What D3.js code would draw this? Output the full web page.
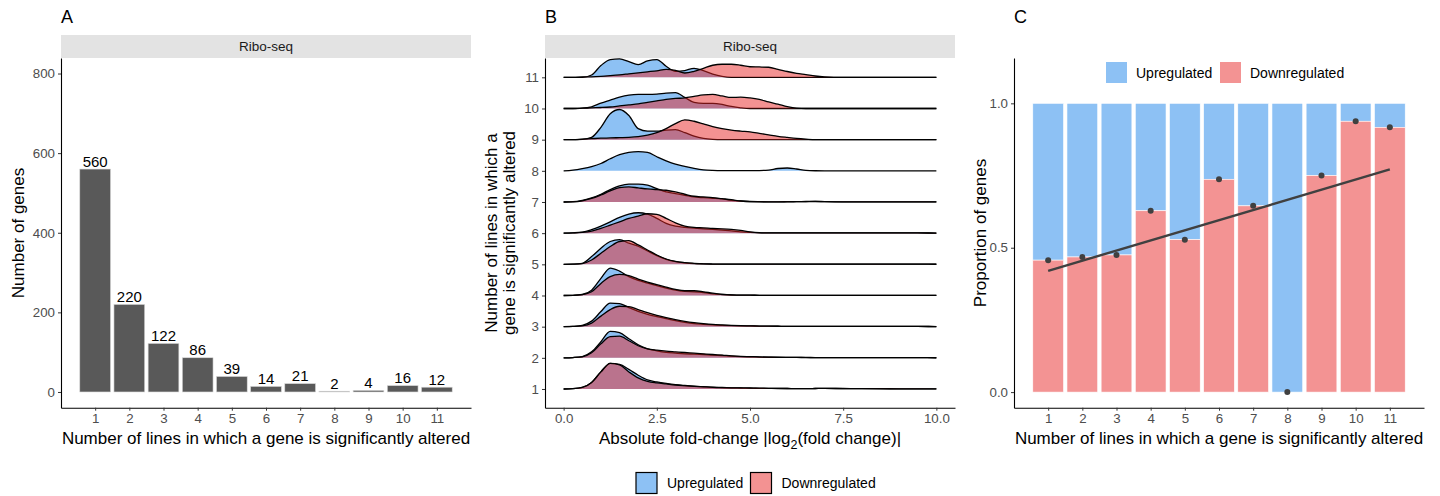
<!DOCTYPE html>
<html>
<head>
<meta charset="utf-8">
<script src="https://cdn.jsdelivr.net/npm/d3@7"></script>
<style>
  html, body { margin: 0; padding: 0; background: #ffffff; }
  svg { display: block; font-family: "Liberation Sans", Arial, sans-serif; }
</style>
</head>
<body>
<svg id="chart" width="1440" height="496"></svg>
<script>
// ---------------- DATA ----------------
const categories = [1, 2, 3, 4, 5, 6, 7, 8, 9, 10, 11];
const geneCounts = [560, 220, 122, 86, 39, 14, 21, 2, 4, 16, 12];
const countTicks = [0, 200, 400, 600, 800];

// Panel B: fold-change grid and scaled density heights
const foldGrid = [0, 0.25, 0.5, 0.75, 1, 1.25, 1.5, 1.75, 2, 2.25, 2.5, 2.75, 3, 3.25, 3.5, 3.75, 4,
  4.25, 4.5, 4.75, 5, 5.25, 5.5, 5.75, 6, 6.25, 6.5, 6.75, 7, 7.5, 8, 8.5, 9, 9.5, 10];
const foldTicks = [0, 2.5, 5, 7.5, 10];

const up1  = [0,0.3,1.5,6.5,17,25.5,24.5,19.5,13.7,9,7,5.5,4.3,3.5,2.8,2.3,1.8,1.5,1.2,1,0.8,0.7,0.6,0.5,0.5,0.4,0.4,0.5,0.6,0.5,0.3,0.3,0.2,0.2,0.1];
const down1= [0,0.3,1.5,6.5,17,25.5,24,17,11,7.5,6,5,4,3.3,2.7,2.2,1.7,1.4,1.2,1.1,1,0.9,0.7,0.6,0.5,0.4,0.4,0.5,0.6,0.4,0.3,0.2,0.2,0.2,0.1];
const up2  = [0,0.3,1.3,6,16,26.3,25,19,13,9,7,5.5,4.7,4,3.7,3.3,2.7,2.3,1.7,1.3,1,0.8,0.6,0.5,0.4,0.4,0.3,0.3,0.3,0.3,0.2,0.2,0.3,0.2,0.1];
const down2= [0,0.3,1,5,14,21,21.5,17,12,9,7.7,6.7,6,5.3,4.7,4,3.3,2.7,2,1.5,1.2,0.9,0.7,0.6,0.5,0.4,0.4,0.3,0.3,0.3,0.2,0.2,0.3,0.2,0.1];
const up3  = [0,0.3,1.3,5.5,15,23.5,23,19,15.3,12.3,10,8,6,4.3,3,2.3,1.7,1.3,1,0.8,0.7,0.6,0.5,0.4,0.3,0.3,0.3,0.3,0.3,0.3,0.3,0.2,0.2,0.2,0.1];
const down3= [0,0.2,0.8,3.5,10.5,17,20.3,20,17,14,11.3,9,7,5.3,4,3,2.2,1.7,1.3,1,0.8,0.6,0.5,0.4,0.3,0.3,0.3,0.3,0.3,0.3,0.3,0.2,0.2,0.2,0.1];
const up4  = [0,0.2,1,5.3,17,27.3,24.3,18.7,15,12.3,9.7,7.3,5.3,4,3.7,3,1.7,1,0.5,0.3,0.3,0.2,0.2,0.2,0.2,0.2,0.2,0.2,0.2,0.2,0.2,0.2,0.2,0.2,0.1];
const down4= [0,0.2,0.8,3.7,12,18.7,21,19.7,16.3,13.3,10.7,8.3,6,4.7,4.7,3.7,2.3,1.2,0.6,0.3,0.3,0.2,0.2,0.2,0.2,0.2,0.2,0.2,0.2,0.2,0.2,0.2,0.2,0.2,0.1];
const up5  = [0,0.2,1,7.7,16,22.7,24.5,21,18,13.3,8.7,5,2.7,1.5,0.8,0.5,0.3,0.2,0.2,0.2,0.2,0.3,0.3,0.2,0.2,0.2,0.2,0.2,0.2,0.2,0.2,0.3,0.2,0.2,0.1];
const down5= [0,0.2,0.8,4.3,11,17.7,22.7,23.5,19.3,14.3,9.3,5.3,3,1.7,1,0.5,0.3,0.2,0.2,0.2,0.2,0.3,0.3,0.2,0.2,0.2,0.2,0.2,0.2,0.2,0.2,0.3,0.2,0.2,0.1];
const up6  = [0,0.3,1,3.5,7,11.3,15.7,19,20.3,19,14.7,9.7,7,5.7,5,4.3,3.7,3,2.3,1.3,0.7,0.3,0.2,0.2,0.2,0.2,0.2,0.2,0.2,0.2,0.2,0.2,0.2,0.2,0.1];
const down6= [0,0.2,0.7,2,4.7,8,11.3,14.7,17,19.3,18.7,14.7,10.3,7,5.7,5.3,4.7,4.3,3.7,2.7,1.3,0.5,0.2,0.2,0.2,0.2,0.2,0.2,0.2,0.2,0.2,0.2,0.2,0.2,0.1];
const up7  = [0,0.3,1.7,4,7.7,12.3,16,17.7,17.7,16.7,13.3,10,8.3,6.7,5,4.3,3.7,3,1.7,1,0.5,0.3,0.2,0.2,0.3,0.4,0.5,0.6,0.4,0.2,0.2,0.2,0.2,0.2,0.1];
const down7= [0,0.2,1.2,3.5,7,11,14.3,15,14,13,12.3,11.7,10,7.7,5.7,5,4.3,3.3,2.3,1,0.3,0.2,0.2,0.2,0.2,0.3,0.4,0.5,0.3,0.2,0.2,0.2,0.2,0.2,0.1];
const up8  = [0,0.8,2.3,4.3,7.3,12,16,18.3,19,18.3,14,10,6.7,4.5,2.5,1,0.4,0.2,0.2,0.2,0.2,0.3,0.8,2.3,2.8,1.8,0.5,0.1,0,0,0,0,0,0,0];
const up9  = [0,0,0.3,2.3,12.3,25.7,30,24,11,8.5,8.5,9.5,10,7,3.5,1.3,0.3,0,0,0,0,0,0,0,0,0,0,0,0,0,0,0,0,0,0];
const down9= [0,0,0.5,1,1.5,1.7,2,2.3,3,4.5,7,11,16,19.7,18.3,15.7,13,11,9.5,8.5,7.7,6.3,4.8,3.3,2.2,1.2,0.5,0,0,0,0,0,0,0,0];
const up10 = [0,0,0.3,1.7,5.3,8.3,11.3,13.3,14,14,14.3,15.3,15.7,11,6,5,5,4,2,0.7,0,0,0,0,0,0,0,0,0,0,0,0,0,0,0];
const down10=[0,0,0.3,0.7,1,1.5,2.5,3.5,4.5,6,7.5,9,10,10.5,12,13.5,14,12.5,11,11.3,10.5,9,6.5,4.3,1.8,0.3,0,0,0,0,0,0,0,0,0];
const up11 = [0,0,0,2.3,11.7,17.7,18.3,15.7,12.7,16.3,17.7,11,6,6.7,9,6.7,3.3,1,0,0,0,0,0,0,0,0,0,0,0,0,0,0,0,0,0];
const down11=[0,0,0.3,0.5,1,1.7,2.5,3.5,4.5,5.5,6.5,8,7,4.3,6,9,12,13,13,12,10.5,10.3,10,8,5.8,4,2.7,1.3,0.5,0,0,0,0,0,0];

const upSeries   = [up1, up2, up3, up4, up5, up6, up7, up8, up9, up10, up11];
const downSeries = [down1, down2, down3, down4, down5, down6, down7, null, down9, down10, down11];

// Panel C
const downProp = [0.457, 0.468, 0.475, 0.628, 0.528, 0.737, 0.645, 0, 0.75, 0.938, 0.917];
const propTicks = [0, 0.5, 1];
const trendX = [1, 11];
const trendY = [0.420, 0.771];

const legendLabels = ["Upregulated", "Downregulated"];

// ---------------- STYLE ----------------
const upBase = "rgb(27,131,233)", downBase = "rgb(231,37,37)";
const upSolid = "#8DC1F4", downSolid = "#F39393";
const tickColor = "#4D4D4D";
const titleColor = "#000000";
const titleSize = "17px";

const svg = d3.select("#chart");
svg.append("rect").attr("width", 1440).attr("height", 496).attr("fill", "#fff");

function styleAxis(g) {
  g.select(".domain").attr("stroke", "#000").attr("stroke-width", 1.1);
  g.selectAll(".tick line").attr("stroke", "#333").attr("stroke-width", 1);
  g.selectAll(".tick text").attr("fill", tickColor).style("font-size", "13.3px")
    .style("font-family", "'Liberation Sans', Arial, sans-serif");
}

function panelLetter(x, t) {
  svg.append("text").attr("x", x).attr("y", 23).text(t)
    .style("font-size", "18px").attr("fill", "#000");
}
function strip(x0, x1, y0, y1) {
  svg.append("rect").attr("x", x0).attr("y", y0).attr("width", x1 - x0).attr("height", y1 - y0)
    .attr("fill", "#E3E3E3");
  svg.append("text").attr("x", (x0 + x1) / 2).attr("y", (y0 + y1) / 2 + 4.8)
    .attr("text-anchor", "middle").text("Ribo-seq").style("font-size", "13.5px").attr("fill", "#1A1A1A");
}
const xTitle = "Number of lines in which a gene is significantly altered";

// ---------------- PANEL A ----------------
const panelTop = 58, panelBottom = 407.7;
const xA = d3.scaleLinear().domain([0, 12]).range([61, 471]);
const yA = d3.scaleLinear().domain([-39.5, 839]).range([panelBottom, panelTop]);
panelLetter(61, "A");
strip(61, 471, 35, 58);
const bwA = (xA(1) - xA(0)) * 0.9;
svg.append("g").selectAll("rect").data(categories).join("rect")
  .attr("x", (d) => xA(d) - bwA / 2)
  .attr("y", (d, i) => yA(geneCounts[i]))
  .attr("width", bwA)
  .attr("height", (d, i) => yA(0) - yA(geneCounts[i]))
  .attr("fill", "#595959").attr("stroke", "#D9D9D9").attr("stroke-width", 0.6);
svg.append("g").selectAll("text").data(categories).join("text")
  .attr("x", (d) => xA(d))
  .attr("y", (d, i) => yA(geneCounts[i]) - 2.5)
  .attr("text-anchor", "middle").text((d, i) => geneCounts[i])
  .style("font-size", "15px").attr("fill", "#000");
svg.append("g").attr("transform", `translate(0,${panelBottom})`)
  .call(d3.axisBottom(xA).tickValues(categories).tickSize(3).tickSizeOuter(0).tickPadding(3))
  .call(styleAxis);
svg.append("g").attr("transform", `translate(61,0)`)
  .call(d3.axisLeft(yA).tickValues(countTicks).tickSize(3).tickSizeOuter(0).tickPadding(3))
  .call(styleAxis);
svg.append("text").attr("x", 266).attr("y", 444).attr("text-anchor", "middle")
  .text(xTitle).style("font-size", titleSize).attr("fill", titleColor);
svg.append("text").attr("transform", "translate(24,233) rotate(-90)").attr("text-anchor", "middle")
  .text("Number of genes").style("font-size", titleSize).attr("fill", titleColor);

// ---------------- PANEL B ----------------
const xB = d3.scaleLinear().domain([-0.5, 10.5]).range([545, 955]);
const yB = d3.scaleLinear().domain([0.4, 11.62]).range([panelBottom, panelTop]);
const hB = d3.scaleLinear().domain([0, 31]).range([0, yB(1) - yB(2)]);
panelLetter(545, "B");
strip(545, 955, 35, 58);

const ridgesG = svg.append("g");
for (let r = categories.length - 1; r >= 0; r--) {
  const cat = categories[r];
  const base = yB(cat);
  const groups = [[upSeries[r], upBase], [downSeries[r], downBase]];
  groups.forEach(([vals, col]) => {
    if (!vals) return;
    const pts = foldGrid.map((x, i) => [x, vals[i]]);
    const area = d3.area().x((d) => xB(d[0])).y0(base).y1((d) => base - hB(d[1])).curve(d3.curveMonotoneX);
    const line = d3.line().x((d) => xB(d[0])).y((d) => base - hB(d[1])).curve(d3.curveMonotoneX);
    ridgesG.append("path").datum(pts).attr("d", area).attr("fill", col).attr("fill-opacity", 0.5);
    ridgesG.append("path").datum(pts).attr("d", line).attr("fill", "none")
      .attr("stroke", "#000").attr("stroke-width", 1.3);
  });
}
svg.append("g").attr("transform", `translate(0,${panelBottom})`)
  .call(d3.axisBottom(xB).tickValues(foldTicks).tickFormat(d3.format(".1f")).tickSize(3).tickSizeOuter(0).tickPadding(3))
  .call(styleAxis);
svg.append("g").attr("transform", `translate(545,0)`)
  .call(d3.axisLeft(yB).tickValues(categories).tickSize(3).tickSizeOuter(0).tickPadding(3))
  .call(styleAxis);
const bt = svg.append("text").attr("x", 750).attr("y", 444).attr("text-anchor", "middle")
  .style("font-size", titleSize).attr("fill", titleColor);
bt.append("tspan").text("Absolute fold-change |log");
bt.append("tspan").text("2").attr("dy", 4.5).style("font-size", "12.5px");
bt.append("tspan").text("(fold change)|").attr("dy", -4.5);
svg.append("text").attr("transform", "translate(497,233) rotate(-90)").attr("text-anchor", "middle")
  .text("Number of lines in which a").style("font-size", titleSize).attr("fill", titleColor);
svg.append("text").attr("transform", "translate(515,233) rotate(-90)").attr("text-anchor", "middle")
  .text("gene is significantly altered").style("font-size", titleSize).attr("fill", titleColor);

// bottom legend
const legB = svg.append("g");
[[636, upBase], [750.5, downBase]].forEach(([x, col], i) => {
  legB.append("rect").attr("x", x).attr("y", 472.5).attr("width", 21).attr("height", 21)
    .attr("fill", col).attr("fill-opacity", 0.5).attr("stroke", "#000").attr("stroke-width", 1.2);
  legB.append("text").attr("x", x + 31).attr("y", 488).text(legendLabels[i])
    .style("font-size", "14px").attr("fill", "#000");
});

// ---------------- PANEL C ----------------
const xC = d3.scaleLinear().domain([0, 12]).range([1014, 1424]);
const yC = d3.scaleLinear().domain([-0.054, 1.157]).range([panelBottom, panelTop]);
panelLetter(1014, "C");
const bwC = (xC(1) - xC(0)) * 0.9;
const barsC = svg.append("g");
barsC.selectAll("rect.up").data(categories).join("rect").attr("class", "up")
  .attr("x", (d) => xC(d) - bwC / 2).attr("y", yC(1)).attr("width", bwC)
  .attr("height", (d, i) => yC(downProp[i]) - yC(1))
  .attr("fill", upSolid).attr("stroke", "#fff").attr("stroke-width", 0.6);
barsC.selectAll("rect.down").data(categories).join("rect").attr("class", "down")
  .attr("x", (d) => xC(d) - bwC / 2).attr("y", (d, i) => yC(downProp[i])).attr("width", bwC)
  .attr("height", (d, i) => yC(0) - yC(downProp[i]))
  .attr("fill", downSolid).attr("stroke", "#fff").attr("stroke-width", 0.6);
svg.append("line").attr("x1", xC(trendX[0])).attr("y1", yC(trendY[0]))
  .attr("x2", xC(trendX[1])).attr("y2", yC(trendY[1]))
  .attr("stroke", "#404040").attr("stroke-width", 2.4);
svg.append("g").selectAll("circle").data(categories).join("circle")
  .attr("cx", (d) => xC(d)).attr("cy", (d, i) => yC(downProp[i])).attr("r", 3)
  .attr("fill", "#404040");
svg.append("g").attr("transform", `translate(0,${panelBottom})`)
  .call(d3.axisBottom(xC).tickValues(categories).tickSize(3).tickSizeOuter(0).tickPadding(3))
  .call(styleAxis);
svg.append("g").attr("transform", `translate(1014,0)`)
  .call(d3.axisLeft(yC).tickValues(propTicks).tickFormat(d3.format(".1f")).tickSize(3).tickSizeOuter(0).tickPadding(3))
  .call(styleAxis);
svg.append("text").attr("x", 1219).attr("y", 444).attr("text-anchor", "middle")
  .text(xTitle).style("font-size", titleSize).attr("fill", titleColor);
svg.append("text").attr("transform", "translate(986,233) rotate(-90)").attr("text-anchor", "middle")
  .text("Proportion of genes").style("font-size", titleSize).attr("fill", titleColor);
// top legend
const legC = svg.append("g");
[[1106, upSolid], [1220, downSolid]].forEach(([x, col], i) => {
  legC.append("rect").attr("x", x).attr("y", 62).attr("width", 21).attr("height", 21).attr("fill", col);
  legC.append("text").attr("x", x + 30).attr("y", 77.5).text(legendLabels[i])
    .style("font-size", "14px").attr("fill", "#000");
});
</script>
</body>
</html>
